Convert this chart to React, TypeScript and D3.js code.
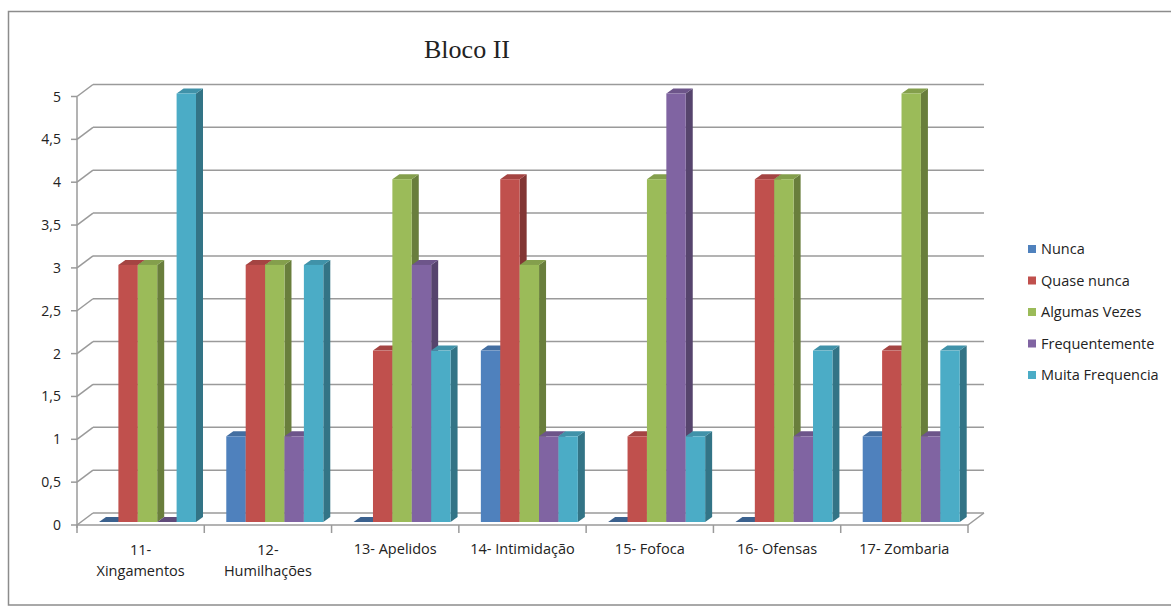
import React from "react";
import * as d3 from "d3";

// Categories (line breaks split the two-line labels)
const categories = [
  "11-\nXingamentos",
  "12-\nHumilhações",
  "13- Apelidos",
  "14- Intimidação",
  "15- Fofoca",
  "16- Ofensas",
  "17- Zombaria",
];

const seriesNames = ["Nunca", "Quase nunca", "Algumas Vezes", "Frequentemente", "Muita Frequencia"];

// Values per series, one entry per category
const nunca = [0, 1, 0, 2, 0, 0, 1];
const quaseNunca = [3, 3, 2, 4, 1, 4, 2];
const algumasVezes = [3, 3, 4, 3, 4, 4, 5];
const frequentemente = [0, 1, 3, 1, 5, 1, 1];
const muitaFrequencia = [5, 3, 2, 1, 1, 2, 2];

const yTicks = [0, 0.5, 1, 1.5, 2, 2.5, 3, 3.5, 4, 4.5, 5];

const seriesColors = ["#4F81BD", "#C0504D", "#9BBB59", "#8064A2", "#4BACC6"];

const seriesValues = [nunca, quaseNunca, algumasVezes, frequentemente, muitaFrequencia];

// Layout
const W = 1171;
const H = 606;
const plotLeft = 77;
const plotRight = 968;
const floorFront = 525;
const DX = 16; // wall depth offset
const DY = -12;
const BX = 7; // bar depth offset
const BY = -5;
const barBaseShift = -3;

const labelFont = "'Open Sans', 'DejaVu Sans', sans-serif";

export default function App() {
  const x0 = d3.scaleBand<string>().domain(categories).range([plotLeft, plotRight]);
  const x1 = d3.scaleBand<string>().domain(seriesNames).range([22, 119]);
  const yFront = d3.scaleLinear().domain([0, 5]).range([floorFront, 96.5]);
  const yBar = (v: number) => yFront(v) + barBaseShift;
  const barBase = yBar(0);

  const shade = (c: string, k: number) => d3.color(c)!.darker(k).formatHex();

  const gridColor = "#9a9a9a";

  return (
    <svg
      width={W}
      height={H}
      style={{ position: "absolute", left: 0, top: 0, background: "#fff" }}
      fontFamily={labelFont}
    >
      {/* Outer frame */}
      <rect x={8.5} y={11.5} width={1200} height={593.5} fill="#fff" stroke="#8c8c8c" strokeWidth={1.5} />

      {/* Title */}
      <text
        x={467}
        y={58}
        textAnchor="middle"
        fontFamily="'Liberation Serif', 'Times New Roman', serif"
        fontSize={26}
        fill="#222"
      >
        Bloco II
      </text>

      {/* Back wall gridlines and left-wall diagonals */}
      {yTicks.map((t) => {
        const yf = yFront(t);
        return (
          <g key={"g" + t}>
            <line x1={plotLeft + DX} x2={plotRight + DX} y1={yf + DY} y2={yf + DY} stroke={gridColor} strokeWidth={1.5} />
            <line x1={plotLeft} x2={plotLeft + DX} y1={yf} y2={yf + DY} stroke={gridColor} strokeWidth={1.5} />
            <line x1={plotLeft - 6} x2={plotLeft} y1={yf} y2={yf} stroke={gridColor} strokeWidth={1.5} />
            <text x={61} y={yf + 5} textAnchor="end" fontSize={14} fill="#222">
              {String(t).replace(".", ",")}
            </text>
          </g>
        );
      })}

      {/* Floor edges and front axis */}
      <line x1={plotLeft} x2={plotLeft} y1={yFront(5)} y2={floorFront + 3} stroke={gridColor} strokeWidth={1.5} />
      <line x1={plotLeft} x2={plotRight} y1={floorFront} y2={floorFront} stroke={gridColor} strokeWidth={1.5} />
      <line x1={plotRight} x2={plotRight + DX} y1={floorFront} y2={floorFront + DY} stroke={gridColor} strokeWidth={1.5} />
      {d3.range(categories.length + 1).map((k) => {
        const xx = plotLeft + k * x0.step();
        return <line key={"tk" + k} x1={xx} x2={xx} y1={floorFront} y2={floorFront + 8} stroke={gridColor} strokeWidth={1.5} />;
      })}

      {/* Bars */}
      {categories.map((cat, ci) => (
        <g key={"c" + ci}>
          {seriesNames.map((s, si) => {
            const v = seriesValues[si][ci];
            const c = seriesColors[si];
            const x = (x0(cat) ?? 0) + (x1(s) ?? 0);
            const w = x1.bandwidth();
            const yt = yBar(v);
            const top = `${x},${yt} ${x + BX},${yt + BY} ${x + w + BX},${yt + BY} ${x + w},${yt}`;
            const side = `${x + w},${yt} ${x + w + BX},${yt + BY} ${x + w + BX},${barBase + BY} ${x + w},${barBase}`;
            return (
              <g key={"b" + si}>
                {v > 0 && <polygon points={side} fill={shade(c, 1.1)} />}
                <polygon points={top} fill={shade(c, v > 0 ? 0.45 : 0.8)} />
                {v > 0 && <rect x={x} y={yt} width={w} height={barBase - yt} fill={c} />}
              </g>
            );
          })}
        </g>
      ))}

      {/* Category labels */}
      {categories.map((cat, ci) => {
        const cx = (x0(cat) ?? 0) + x0.bandwidth() / 2;
        const lines = cat.split("\n");
        return (
          <text key={"l" + ci} x={cx} textAnchor="middle" fontSize={14.5} fill="#222">
            {lines.map((ln, li) => (
              <tspan key={li} x={cx} y={lines.length > 1 ? 555 + li * 21 : 554}>
                {ln}
              </tspan>
            ))}
          </text>
        );
      })}

      {/* Legend */}
      {seriesNames.map((s, si) => {
        const cy = 249 + si * 31.5;
        return (
          <g key={"lg" + si}>
            <rect x={1028} y={cy - 4} width={8} height={8} fill={seriesColors[si]} />
            <text x={1041} y={cy + 5} fontSize={14.5} fill="#222">
              {s}
            </text>
          </g>
        );
      })}
    </svg>
  );
}
